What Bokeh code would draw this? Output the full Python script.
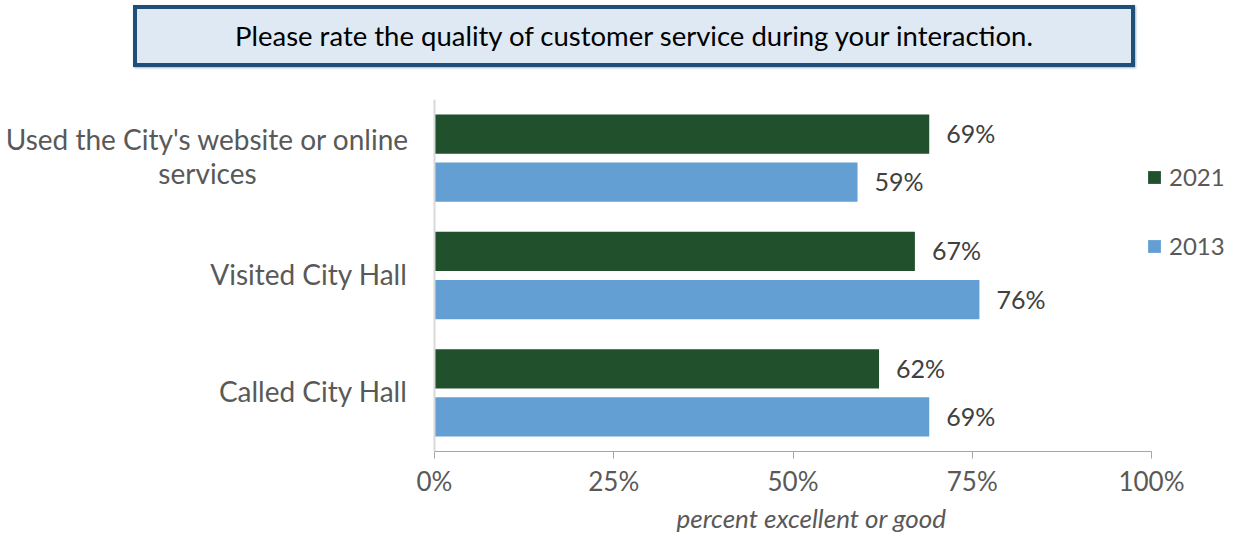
from bokeh.plotting import figure
from bokeh.models import (ColumnDataSource, FactorRange, Range1d, Legend, LegendItem,
                          NumeralTickFormatter, FixedTicker, Div, Span, Title)
from bokeh.transform import dodge
from bokeh.layouts import column
from bokeh.core.properties import value
from bokeh.embed import file_html
from bokeh.resources import INLINE

title_text = "Please rate the quality of customer service during your interaction."
categories = ["Used the City's website or online\nservices", "Visited City Hall", "Called City Hall"]
values_2021 = [0.69, 0.67, 0.62]
values_2013 = [0.59, 0.76, 0.69]
series_names = ["2021", "2013"]
x_ticks = [0, 0.25, 0.5, 0.75, 1.0]
x_title = "percent excellent or good"

FONT = "Lato"
GREEN = "#21502d"
BLUE = "#639fd3"
TXT = "#595959"

src = ColumnDataSource(dict(
    cat=categories,
    v21=values_2021,
    v13=values_2013,
    l21=[f"{round(v*100)}%" for v in values_2021],
    l13=[f"{round(v*100)}%" for v in values_2013],
    zero=[0] * len(categories),
    align=["center" if "\n" in c else "right" for c in categories],
    xoff=[-227 if "\n" in c else -27 for c in categories],
))

p = figure(width=1226, height=461, y_range=FactorRange(*categories[::-1]),
           x_range=Range1d(-0.6053, 1.1046), output_backend="svg", toolbar_location=None,
           y_axis_location=None,
           min_border_left=0, min_border_right=0, min_border_top=27, min_border_bottom=0)
p.outline_line_color = None
p.background_fill_color = "white"
p.border_fill_color = "white"

p.add_layout(Span(location=0, dimension="height", line_color="#d9d9d9", line_width=2))

r21 = p.hbar(y=dodge("cat", 0.205, range=p.y_range), left=0, right="v21", height=0.335,
             source=src, fill_color=GREEN, line_color=None)
r13 = p.hbar(y=dodge("cat", -0.205, range=p.y_range), left=0, right="v13", height=0.335,
             source=src, fill_color=BLUE, line_color=None)

p.text(x="v21", y=dodge("cat", 0.205, range=p.y_range), text="l21", source=src,
       x_offset=17, y_offset=-1, text_baseline="middle", text_font=value(FONT),
       text_font_size="25px", text_color="#404040")
p.text(x="v13", y=dodge("cat", -0.205, range=p.y_range), text="l13", source=src,
       x_offset=17, y_offset=-1, text_baseline="middle", text_font=value(FONT),
       text_font_size="25px", text_color="#404040")

# category labels (left of the value axis)
p.text(x="zero", y="cat", text="cat", source=src, x_offset="xoff", y_offset=-2,
       text_align="align", text_baseline="middle", text_font=value(FONT),
       text_font_size="28px", text_color=TXT, text_line_height=1.0)

p.xgrid.visible = False
p.ygrid.visible = False

xa = p.xaxis[0]
xa.bounds = (0, 1)
xa.ticker = FixedTicker(ticks=x_ticks)
xa.formatter = NumeralTickFormatter(format="0%")
xa.axis_line_color = "#a6a6a6"
xa.major_tick_line_color = "#a6a6a6"
xa.major_tick_out = 7
xa.major_tick_in = 0
xa.minor_tick_line_color = None
xa.major_label_text_font = FONT
xa.major_label_text_font_size = "26px"
xa.major_label_text_color = TXT
xa.major_label_standoff = 6

p.add_layout(Title(text=x_title, align="left", offset=676, standoff=0,
                   text_font=FONT, text_font_style="italic", text_font_size="26px",
                   text_color=TXT), "below")

legend = Legend(items=[LegendItem(label=series_names[0], renderers=[r21]),
                       LegendItem(label=series_names[1], renderers=[r13])],
                location=(1146, 191), orientation="vertical")
legend.glyph_width = 16
legend.glyph_height = 16
legend.label_height = 16
legend.spacing = 40
legend.padding = 0
legend.margin = 0
legend.border_line_color = None
legend.background_fill_alpha = 0
legend.label_text_font = FONT
legend.label_text_font_size = "24px"
legend.label_text_color = TXT
legend.label_standoff = 7
p.add_layout(legend)

div = Div(text=(
    '<div style="box-sizing:border-box;margin-left:128px;width:1002px;height:62px;'
    'border:4px solid #1f4e79;background:#dfe9f4;display:flex;align-items:center;'
    'justify-content:center;font-family:Lato,sans-serif;font-size:27.5px;color:#000;'
    'box-shadow:1px 1px 2px #9fb4c8;">' + title_text + '</div>'),
    width=1220, height=62)

layout = column(div, p, spacing=0)
open("out.html", "w").write(file_html(layout, INLINE))
